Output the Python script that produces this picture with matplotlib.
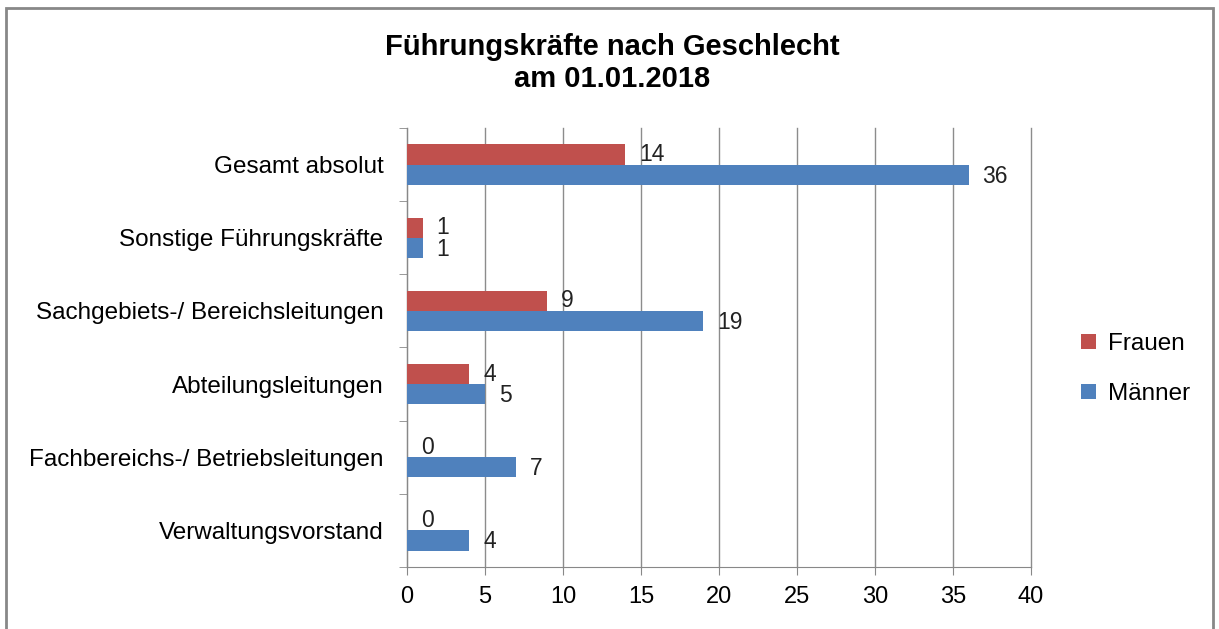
import matplotlib
matplotlib.use("Agg")
import matplotlib.pyplot as plt
import numpy as np
from matplotlib.patches import Rectangle

categories = [
    "Verwaltungsvorstand",
    "Fachbereichs-/ Betriebsleitungen",
    "Abteilungsleitungen",
    "Sachgebiets-/ Bereichsleitungen",
    "Sonstige Führungskräfte",
    "Gesamt absolut",
]
frauen = [0, 0, 4, 9, 1, 14]
maenner = [4, 7, 5, 19, 1, 36]
xticks = [0, 5, 10, 15, 20, 25, 30, 35, 40]

RED = "#C0504D"
BLUE = "#4F81BD"

plt.rcParams["font.family"] = ["Liberation Sans", "DejaVu Sans"]

fig = plt.figure(figsize=(12.19, 6.29), dpi=100)
fig.patches.append(Rectangle((0.005, -0.01), 0.99, 0.998, transform=fig.transFigure,
                             fill=False, edgecolor="#888888", lw=2))
ax = fig.add_axes([0.3339, 0.0986, 0.5119, 0.6979])

y = np.arange(len(categories))
h = 0.275
bf = ax.barh(y + h / 2, frauen, height=h, color=RED, label="Frauen", zorder=3)
bm = ax.barh(y - h / 2, maenner, height=h, color=BLUE, label="Männer", zorder=3)

for yi, v in zip(y, frauen):
    ax.annotate(str(v), (v, yi + h / 2), xytext=(10, 0), textcoords="offset points",
                va="center", ha="left", fontsize=16.5, color="#222222")
for yi, v in zip(y, maenner):
    ax.annotate(str(v), (v, yi - h / 2), xytext=(10, -1), textcoords="offset points",
                va="center", ha="left", fontsize=16.5, color="#222222")

ax.set_xlim(0, 40)
ax.set_ylim(-0.5, len(categories) - 0.5)
ax.set_xticks(xticks)
ax.set_xticklabels([str(t) for t in xticks], fontsize=17)
ax.set_yticks(y)
ax.set_yticklabels(categories, fontsize=17.5)
ax.set_yticks(np.arange(-0.5, len(categories), 1), minor=True)
ax.tick_params(axis="y", which="major", length=0, pad=17)
ax.tick_params(axis="y", which="minor", length=6, color="#888888", direction="out")
ax.tick_params(axis="x", length=6, color="#888888", pad=8)
ax.grid(axis="x", color="#8c8c8c", lw=1, zorder=0)
for line in ax.get_xgridlines():
    line.set_clip_on(False)
for s in ["top", "right"]:
    ax.spines[s].set_visible(False)
for s in ["left", "bottom"]:
    ax.spines[s].set_color("#888888")

fig.text(0.502, 0.900, "Führungskräfte nach Geschlecht\nam 01.01.2018", ha="center", va="center",
         fontsize=21, fontweight="bold", linespacing=1.15)

handles = [bf, bm]
fig.legend(handles, ["Frauen", "Männer"], loc="center left", bbox_to_anchor=(0.869, 0.413),
           frameon=False, fontsize=17.5, handlelength=0.6, handleheight=0.6,
           labelspacing=1.15, handletextpad=0.5)

fig.savefig("out.png", dpi=100)
